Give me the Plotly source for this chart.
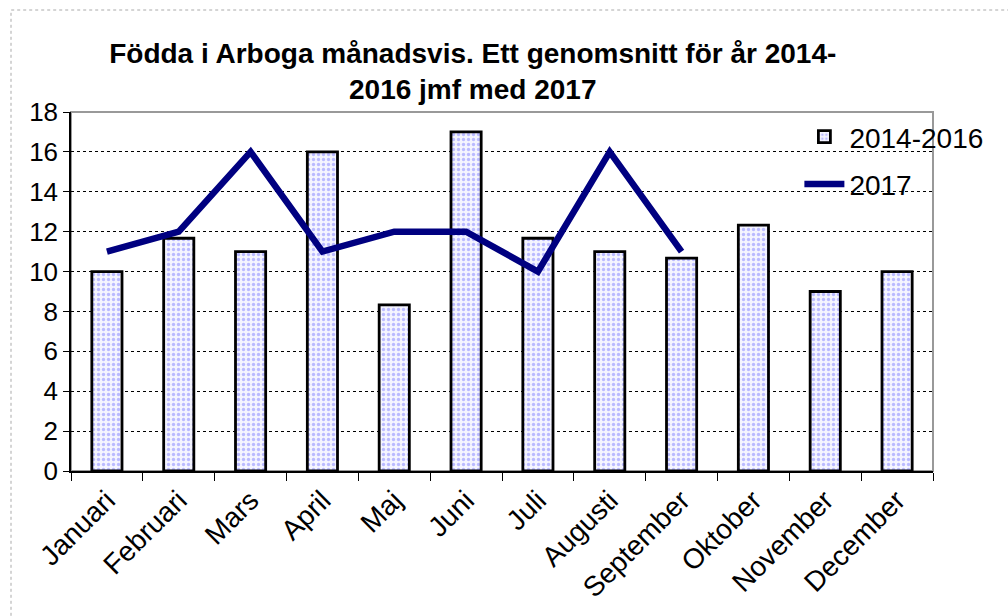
import plotly.graph_objects as go

months = ["Januari", "Februari", "Mars", "April", "Maj", "Juni", "Juli",
          "Augusti", "September", "Oktober", "November", "December"]
avg_2014_2016 = [10, 11.67, 11, 16, 8.33, 17, 11.67, 11, 10.67, 12.33, 9, 10]
months_2017 = months[:9]
values_2017 = [11, 12, 16, 11, 12, 12, 10, 16, 11]

FONT = "Liberation Sans, Arial, sans-serif"

fig = go.Figure()
fig.add_trace(go.Bar(
    x=months, y=avg_2014_2016, name="2014-2016", width=0.42,
    marker=dict(color="white", line=dict(color="black", width=2.8),
                pattern=dict(shape=".", fgcolor="#7f7fff", bgcolor="#f4f4ff",
                             size=5, solidity=0.35)),
    legendgroup="a",
))
fig.add_trace(go.Scatter(
    x=months_2017, y=values_2017, name="2017", mode="lines",
    line=dict(color="#000080", width=6.5),
    legendgroup="b",
))

L, T, PW, PH = 71, 112, 862, 359
fig.update_layout(
    width=1008, height=616,
    margin=dict(l=L, r=1008 - L - PW, t=T, b=616 - T - PH, autoexpand=False),
    paper_bgcolor="white", plot_bgcolor="white",
    font=dict(family=FONT, color="black", size=26),
    title=dict(text="<b>Födda i Arboga månadsvis. Ett genomsnitt för år 2014-<br>2016 jmf med 2017</b>",
               x=0.469, xanchor="center", xref="container",
               y=1 - 63 / 616, yanchor="top", yref="container",
               font=dict(family=FONT, size=28, color="black")),
    showlegend=True,
    legend=dict(x=0.845, xanchor="left", y=1.0, yanchor="top",
                bgcolor="rgba(0,0,0,0)", font=dict(size=28, family=FONT),
                traceorder="grouped", tracegroupgap=8, itemwidth=40),
    xaxis=dict(showline=True, linecolor="black", linewidth=1.5,
               ticks="outside", tickson="boundaries", ticklen=8, tickcolor="black",
               tickangle=-45, tickfont=dict(size=28, family=FONT),
               showgrid=False, range=[-0.5, 11.5], automargin=False),
    yaxis=dict(showline=True, linecolor="black", linewidth=1.5,
               ticks="outside", ticklen=6, tickcolor="black",
               range=[0, 18], dtick=2, tickfont=dict(size=26, family=FONT),
               showgrid=True, gridcolor="black", griddash="dot", gridwidth=1,
               zeroline=False, automargin=False),
    shapes=[
        dict(type="rect", xref="paper", yref="paper", x0=0, x1=1, y0=0, y1=1,
             line=dict(color="#999999", width=2), layer="below"),
        dict(type="rect", xref="paper", yref="paper",
             x0=(11 - L) / PW, x1=1.2, y0=-0.6, y1=(T + PH - 10) / PH,
             line=dict(color="#aaaaaa", width=1, dash="dot"), layer="below"),
    ],
)

fig.write_html("out.html", config={"displayModeBar": False},
               post_script="document.body.style.margin='0';")
